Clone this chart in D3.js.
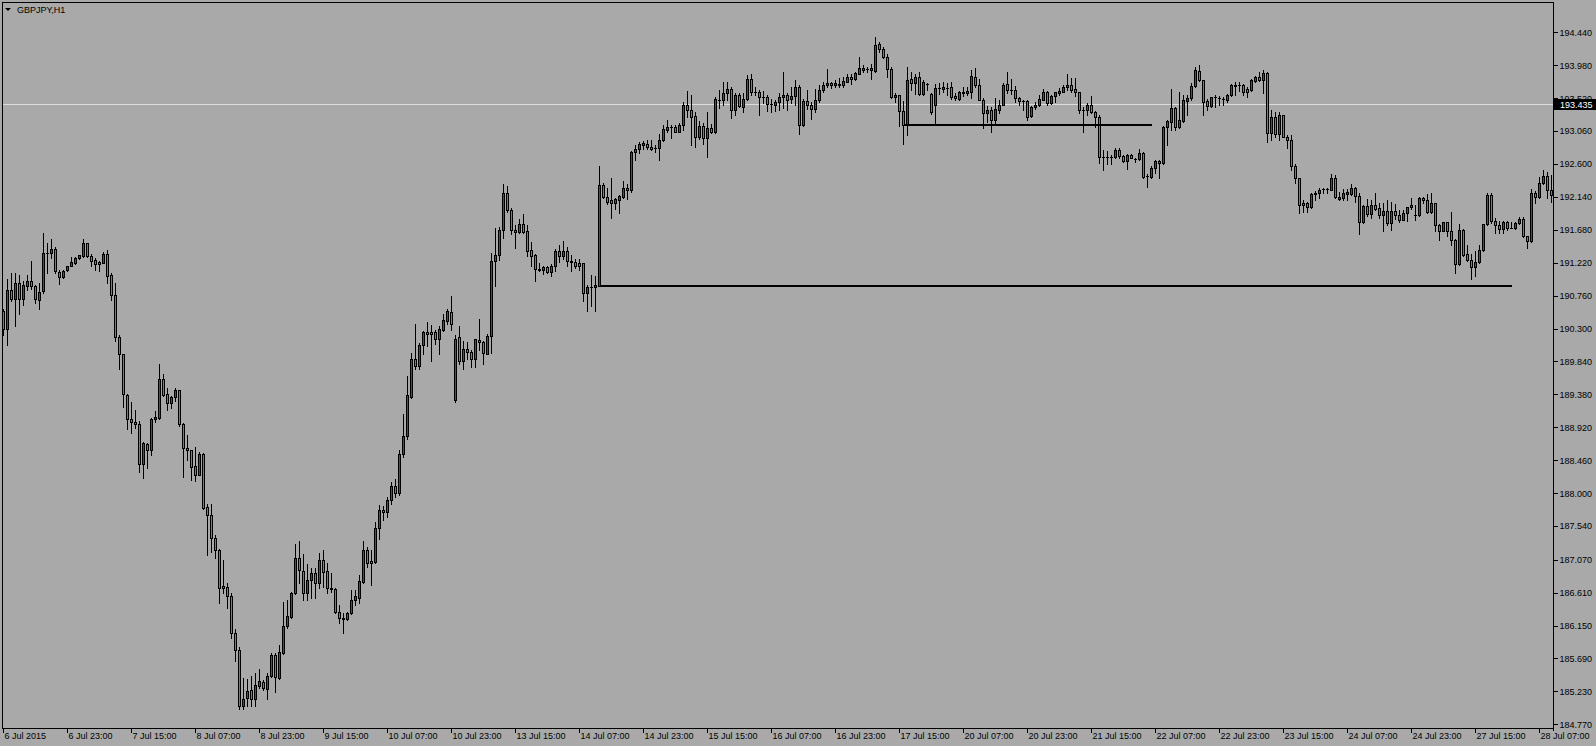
<!DOCTYPE html>
<html lang="en">
<head>
<meta charset="utf-8">
<title>GBPJPY,H1</title>
<style>
  body { margin: 0; background: #a9a9a9; }
  svg { display: block; }
  .axis text, .title { font: 9px "Liberation Sans", Arial, sans-serif; fill: #000; }
  .axis line { stroke: #000; shape-rendering: crispEdges; }
  .wick, .body, .doji, .frame { shape-rendering: crispEdges; }
</style>
</head>
<body>
<svg width="1596" height="746"></svg>
<script src="https://d3js.org/d3.v7.min.js"></script>
<script>

// hourly bars, 6 Jul 2015 07:00 .. 28 Jul 2015 10:00
var opens = [
 190.55,190.29,190.84,190.71,190.93,190.71,190.90,190.97,190.89,190.70,
 190.82,191.35,191.35,191.41,191.09,191.02,191.12,191.18,191.21,191.28,
 191.32,191.49,191.32,191.26,191.23,191.22,191.34,191.05,190.77,190.18,
 189.94,189.37,189.03,188.99,188.97,188.41,188.68,188.60,189.03,189.05,
 189.59,189.39,189.26,189.34,189.44,188.97,188.63,188.60,188.38,188.26,
 188.55,187.80,187.69,187.38,187.21,186.70,186.69,186.56,186.05,185.81,
 185.03,185.14,185.25,185.13,185.31,185.36,185.26,185.44,185.74,185.42,
 185.76,186.14,186.27,186.60,187.09,186.91,186.60,186.79,186.88,186.75,
 187.06,186.91,186.67,186.66,186.34,186.26,186.24,186.32,186.50,186.54,
 186.76,187.21,187.05,187.04,187.51,187.77,187.73,187.90,188.10,188.00,
 188.55,188.80,189.35,189.88,189.77,190.07,190.25,190.25,190.25,190.15,
 190.28,190.41,190.53,189.30,190.18,189.84,190.01,189.97,189.88,190.14,
 190.11,189.95,190.20,191.24,191.33,191.68,192.20,191.96,191.68,191.65,
 191.76,191.66,191.40,191.33,191.13,191.12,191.16,191.09,191.17,191.38,
 191.31,191.38,191.24,191.23,191.21,191.21,190.80,190.88,190.88,190.90,
 192.31,192.14,192.10,192.06,192.10,192.14,192.27,192.23,192.76,192.81,
 192.87,192.88,192.83,192.82,192.82,192.93,193.07,193.12,193.12,193.05,
 193.14,193.42,193.36,193.27,192.97,193.13,192.96,193.10,193.04,193.50,
 193.49,193.59,193.65,193.36,193.57,193.40,193.51,193.79,193.61,193.61,
 193.54,193.54,193.44,193.42,193.47,193.54,193.56,193.51,193.55,193.67,
 193.15,193.48,193.42,193.37,193.49,193.63,193.70,193.73,193.70,193.72,
 193.71,193.75,193.82,193.79,193.86,193.91,193.92,193.91,193.90,194.28,
 194.21,194.10,193.93,193.53,193.56,193.34,193.15,193.79,193.73,193.81,
 193.58,193.72,193.58,193.42,193.66,193.65,193.66,193.68,193.55,193.51,
 193.59,193.59,193.60,193.81,193.71,193.50,193.31,193.35,193.21,193.36,
 193.43,193.72,193.63,193.63,193.52,193.48,193.48,193.27,193.39,193.42,
 193.50,193.61,193.45,193.55,193.59,193.61,193.67,193.70,193.65,193.60,
 193.35,193.35,193.43,193.33,193.25,192.70,192.70,192.70,192.70,192.80,
 192.71,192.64,192.73,192.67,192.67,192.75,192.43,192.42,192.55,192.64,
 192.61,193.11,193.19,193.38,193.11,193.20,193.48,193.52,193.69,193.90,
 193.77,193.48,193.41,193.53,193.52,193.51,193.49,193.56,193.69,193.70,
 193.70,193.65,193.64,193.76,193.81,193.78,193.87,193.03,193.25,193.02,
 193.29,192.98,192.94,192.57,192.40,192.05,192.05,192.00,192.18,192.20,
 192.25,192.25,192.24,192.40,192.11,192.13,192.18,192.18,192.26,192.15,
 191.79,192.01,191.90,192.03,191.98,191.88,191.94,191.77,191.94,191.89,
 191.82,191.92,192.00,191.89,191.88,192.12,192.10,191.93,192.05,191.75,
 191.67,191.79,191.66,191.54,191.20,191.68,191.34,191.26,191.16,191.23,
 191.40,191.76,192.17,191.80,191.75,191.69,191.79,191.71,191.71,191.77,
 191.83,191.59,191.53,192.19,192.14,192.33,192.43,192.23
];
var highs = [
 190.57,190.99,191.08,191.08,191.05,190.96,191.05,191.24,190.91,190.93,
 191.64,191.49,191.55,191.44,191.12,191.12,191.18,191.30,191.30,191.33,
 191.55,191.50,191.34,191.28,191.24,191.37,191.40,191.07,190.93,190.21,
 189.95,189.39,189.28,189.16,189.01,188.72,188.70,189.05,189.15,189.80,
 189.67,189.47,189.36,189.47,189.44,188.98,188.81,188.60,188.64,188.57,
 188.56,187.85,187.85,187.41,187.22,187.07,186.74,186.60,186.10,185.85,
 185.41,185.40,185.45,185.48,185.54,185.39,185.48,185.76,185.76,185.88,
 186.48,186.51,186.62,187.29,187.33,187.15,187.01,186.95,186.96,187.16,
 187.21,187.03,186.88,186.67,186.43,186.32,186.34,186.65,186.65,186.86,
 187.33,187.25,187.21,187.59,187.84,187.82,187.95,188.15,188.20,188.60,
 189.10,189.64,189.96,190.36,190.10,190.26,190.39,190.35,190.28,190.34,
 190.50,190.57,190.75,190.21,190.33,190.12,190.11,190.00,190.15,190.43,
 190.13,190.22,191.35,191.71,191.72,192.32,192.29,191.99,191.75,191.83,
 191.90,191.75,191.51,191.34,191.21,191.17,191.17,191.20,191.41,191.47,
 191.52,191.44,191.33,191.27,191.27,191.22,190.91,191.05,191.03,192.57,
 192.33,192.27,192.41,192.13,192.17,192.36,192.32,192.78,192.86,192.90,
 192.92,192.93,192.94,192.86,193.02,193.14,193.22,193.14,193.14,193.17,
 193.46,193.62,193.56,193.33,193.20,193.17,193.32,193.16,193.53,193.64,
 193.74,193.74,193.68,193.59,193.59,193.59,193.84,193.85,193.68,193.64,
 193.62,193.57,193.51,193.50,193.59,193.89,193.59,193.67,193.78,193.70,
 193.51,193.64,193.47,193.65,193.71,193.75,193.93,193.74,193.78,193.80,
 193.81,193.85,193.86,193.89,194.09,193.98,193.96,193.99,194.37,194.31,
 194.23,194.13,193.95,193.59,193.57,193.48,193.96,193.89,193.85,193.89,
 193.78,193.73,193.59,193.72,193.73,193.75,193.73,193.74,193.59,193.62,
 193.67,193.67,193.91,193.94,193.79,193.52,193.41,193.39,193.52,193.49,
 193.73,193.89,193.79,193.69,193.53,193.49,193.49,193.41,193.46,193.56,
 193.65,193.62,193.56,193.61,193.66,193.71,193.85,193.80,193.80,193.61,
 193.40,193.45,193.55,193.34,193.28,192.79,192.78,192.73,192.82,192.82,
 192.73,192.74,192.74,192.68,192.81,192.77,192.46,192.57,192.66,192.66,
 193.13,193.21,193.65,193.40,193.60,193.56,193.56,193.73,193.96,193.98,
 193.78,193.51,193.54,193.56,193.55,193.54,193.58,193.72,193.74,193.74,
 193.72,193.67,193.79,193.83,193.88,193.91,193.88,193.35,193.32,193.33,
 193.29,193.00,193.00,192.60,192.41,192.10,192.07,192.19,192.22,192.26,
 192.26,192.26,192.46,192.45,192.21,192.25,192.25,192.32,192.28,192.19,
 192.03,192.11,192.10,192.20,192.05,192.05,192.10,192.07,192.04,191.96,
 191.96,192.00,192.12,192.03,192.14,192.14,192.18,192.19,192.06,191.76,
 191.79,191.79,191.93,191.55,191.76,191.69,191.47,191.34,191.38,191.47,
 191.76,192.19,192.19,191.84,191.80,191.80,191.80,191.79,191.79,191.86,
 191.86,191.60,192.25,192.22,192.42,192.52,192.49,192.45
];
var lows = [
 190.21,190.07,190.69,190.33,190.50,190.63,190.84,190.85,190.65,190.57,
 190.79,191.08,191.28,191.07,190.92,191.01,191.11,191.17,191.20,191.27,
 191.30,191.30,191.18,191.12,191.10,191.21,190.93,190.70,190.12,189.74,
 189.21,188.89,188.84,188.91,188.30,188.21,188.35,188.53,188.99,189.04,
 189.36,189.16,189.19,189.29,188.94,188.23,188.46,188.18,188.17,188.25,
 187.78,187.14,187.18,187.10,186.46,186.61,186.39,185.97,185.66,184.98,
 184.98,185.02,185.02,185.02,185.27,185.25,185.12,185.43,185.22,185.40,
 185.75,186.11,186.25,186.59,186.75,186.51,186.50,186.53,186.53,186.68,
 186.69,186.60,186.62,186.33,186.19,186.05,186.23,186.31,186.44,186.47,
 186.75,186.97,186.72,187.03,187.36,187.62,187.66,187.85,187.95,187.98,
 188.50,188.75,189.33,189.74,189.74,189.95,190.06,189.84,190.08,189.95,
 190.27,190.37,190.28,189.27,189.81,189.74,189.88,189.76,189.76,190.00,
 189.80,189.94,189.96,190.89,191.26,191.56,191.93,191.62,191.43,191.63,
 191.63,191.32,191.18,190.97,191.10,191.06,191.07,191.04,191.11,191.23,
 191.27,191.18,191.10,191.14,191.12,190.68,190.54,190.61,190.54,190.90,
 192.13,192.04,191.85,191.97,191.92,192.12,192.11,192.21,192.66,192.75,
 192.81,192.81,192.80,192.77,192.66,192.92,193.05,192.96,193.04,193.04,
 193.07,193.26,192.86,192.83,192.95,192.88,192.70,193.03,193.03,193.38,
 193.42,193.49,193.24,193.28,193.40,193.32,193.49,193.57,193.57,193.29,
 193.45,193.34,193.32,193.34,193.36,193.38,193.36,193.45,193.43,193.02,
 193.13,193.37,193.23,193.33,193.47,193.61,193.68,193.66,193.67,193.68,
 193.68,193.74,193.72,193.78,193.85,193.89,193.89,193.79,193.89,194.17,
 194.08,193.82,193.52,193.47,193.13,192.88,193.00,193.64,193.58,193.57,
 193.57,193.64,193.30,193.15,193.58,193.61,193.57,193.51,193.50,193.49,
 193.55,193.57,193.52,193.68,193.49,193.10,193.19,193.04,193.16,193.31,
 193.42,193.59,193.58,193.47,193.43,193.35,193.22,193.25,193.37,193.41,
 193.49,193.42,193.44,193.47,193.57,193.60,193.63,193.61,193.55,193.31,
 193.04,193.29,193.31,193.11,192.61,192.51,192.60,192.60,192.69,192.69,
 192.63,192.53,192.68,192.63,192.66,192.41,192.28,192.41,192.47,192.40,
 192.60,192.87,193.07,193.07,193.10,193.19,193.28,193.50,193.67,193.76,
 193.28,193.35,193.40,193.40,193.42,193.43,193.47,193.55,193.57,193.62,
 193.57,193.54,193.62,193.74,193.76,193.59,192.91,192.94,192.98,192.94,
 192.97,192.82,192.51,192.34,191.92,191.93,191.93,191.99,192.09,192.13,
 192.19,192.19,192.23,192.12,192.09,192.10,192.10,192.16,192.07,191.62,
 191.77,191.87,191.84,191.95,191.85,191.67,191.75,191.68,191.83,191.79,
 191.81,191.80,191.97,191.82,191.87,192.06,191.91,191.92,191.66,191.54,
 191.66,191.60,191.47,191.07,191.19,191.31,191.25,190.99,191.03,191.21,
 191.39,191.75,191.77,191.63,191.63,191.63,191.68,191.70,191.69,191.76,
 191.58,191.43,191.51,192.05,192.13,192.32,192.13,192.07
];
var closes = [
 190.29,190.84,190.71,190.93,190.71,190.91,190.97,190.89,190.71,190.81,
 191.35,191.35,191.41,191.10,191.02,191.11,191.17,191.23,191.28,191.33,
 191.49,191.32,191.25,191.20,191.20,191.34,191.04,190.77,190.18,189.94,
 189.39,189.03,188.99,188.96,188.41,188.70,188.60,189.03,189.06,189.59,
 189.37,189.26,189.34,189.44,188.96,188.63,188.60,188.37,188.26,188.55,
 187.79,187.69,187.37,187.20,186.68,186.68,186.56,186.05,185.81,185.03,
 185.13,185.24,185.13,185.32,185.37,185.27,185.44,185.74,185.43,185.78,
 186.14,186.28,186.60,187.09,186.93,186.60,186.79,186.88,186.75,187.06,
 186.90,186.67,186.66,186.34,186.25,186.25,186.32,186.50,186.56,186.77,
 187.21,187.03,187.03,187.51,187.77,187.73,187.90,188.10,188.00,188.55,
 188.80,189.37,189.88,189.77,190.07,190.25,190.22,190.22,190.15,190.29,
 190.42,190.55,190.37,190.15,189.84,190.01,189.97,189.88,190.15,190.11,
 189.96,190.20,191.24,191.33,191.68,192.20,191.95,191.68,191.65,191.76,
 191.65,191.39,191.32,191.13,191.12,191.16,191.09,191.17,191.38,191.32,
 191.38,191.24,191.23,191.18,191.18,190.79,190.88,190.88,190.91,192.31,
 192.14,192.07,192.06,192.11,192.15,192.27,192.23,192.76,192.81,192.88,
 192.89,192.83,192.81,192.82,192.93,193.09,193.12,193.12,193.05,193.15,
 193.42,193.36,193.26,192.98,193.13,192.96,193.10,193.04,193.51,193.50,
 193.59,193.65,193.36,193.57,193.41,193.51,193.79,193.61,193.61,193.53,
 193.54,193.44,193.44,193.47,193.54,193.57,193.50,193.55,193.67,193.15,
 193.48,193.43,193.37,193.49,193.63,193.70,193.73,193.70,193.73,193.70,
 193.76,193.82,193.79,193.87,193.94,193.94,193.92,193.94,194.26,194.20,
 194.10,193.93,193.53,193.56,193.34,193.15,193.78,193.73,193.81,193.58,
 193.74,193.72,193.32,193.66,193.66,193.68,193.66,193.54,193.52,193.60,
 193.61,193.62,193.83,193.71,193.50,193.31,193.35,193.21,193.37,193.43,
 193.70,193.63,193.63,193.52,193.48,193.48,193.25,193.39,193.43,193.51,
 193.60,193.45,193.55,193.60,193.62,193.67,193.70,193.64,193.60,193.35,
 193.35,193.43,193.32,193.25,192.70,192.70,192.70,192.70,192.80,192.71,
 192.64,192.73,192.69,192.67,192.75,192.42,192.43,192.55,192.64,192.61,
 193.11,193.20,193.38,193.11,193.21,193.49,193.52,193.69,193.91,193.77,
 193.47,193.41,193.53,193.53,193.52,193.51,193.56,193.70,193.70,193.70,
 193.60,193.60,193.77,193.81,193.78,193.87,193.03,193.25,193.02,193.29,
 192.98,192.94,192.57,192.40,192.03,192.02,192.00,192.18,192.20,192.24,
 192.25,192.25,192.40,192.14,192.14,192.20,192.21,192.26,192.15,191.79,
 192.01,191.90,192.03,191.97,191.88,191.94,191.77,191.94,191.88,191.82,
 191.92,192.00,192.03,191.89,192.13,192.09,191.93,192.05,191.74,191.67,
 191.79,191.66,191.54,191.20,191.68,191.33,191.26,191.16,191.23,191.40,
 191.76,192.17,191.80,191.75,191.69,191.79,191.71,191.71,191.78,191.83,
 191.59,191.53,192.19,192.14,192.33,192.43,192.23,192.16
];

var xTickBars = [0,16,32,48,64,80,96,112,128,144,160,176,192,208,224,240,256,272,288,304,320,336,352,368,384];
var xTickLabels = ["6 Jul 2015","6 Jul 23:00","7 Jul 15:00","8 Jul 07:00","8 Jul 23:00","9 Jul 15:00",
  "10 Jul 07:00","10 Jul 23:00","13 Jul 15:00","14 Jul 07:00","14 Jul 23:00","15 Jul 15:00",
  "16 Jul 07:00","16 Jul 23:00","17 Jul 15:00","20 Jul 07:00","20 Jul 23:00","21 Jul 15:00",
  "22 Jul 07:00","22 Jul 23:00","23 Jul 15:00","24 Jul 07:00","24 Jul 23:00","27 Jul 15:00","28 Jul 07:00"];
var yTicks = [194.44,193.98,193.52,193.06,192.60,192.14,191.68,191.22,190.76,190.30,189.84,
  189.38,188.92,188.46,188.00,187.54,187.07,186.61,186.15,185.69,185.23,184.77];

var bidPrice = 193.435;
var levelPrices = [193.15, 190.90];
var levelFrom = [225, 149];
var levelTo = [287, 377];

var symbolName = "GBPJPY,H1";

var svg = d3.select("svg");
var W = 1596, H = 746;
var plotRight = 1553, plotBottom = 728;

var n = closes.length;
var bars = d3.range(n).map(function(i) {
  return {i: i, o: opens[i], h: highs[i], l: lows[i], c: closes[i]};
});

var x = d3.scaleLinear().domain([0, n - 1]).range([3.5, 3.5 + 4 * (n - 1)]);
var y = d3.scaleLinear().domain([184.718, 194.891]).range([plotBottom, 0]);

svg.append("rect").attr("width", W).attr("height", H).attr("fill", "#a9a9a9");

// bid line
var by = Math.round(y(bidPrice)) + 0.5;
svg.append("line")
   .attr("x1", 2).attr("x2", plotRight)
   .attr("y1", by).attr("y2", by)
   .attr("stroke", "#dcdcdc").attr("stroke-width", 1)
   .style("shape-rendering", "crispEdges");

// candles
var g = svg.append("g");

g.selectAll("line.wick")
  .data(bars)
  .enter().append("line")
  .attr("class", "wick")
  .attr("x1", function(d) { return x(d.i); })
  .attr("x2", function(d) { return x(d.i); })
  .attr("y1", function(d) { return Math.round(y(d.h)); })
  .attr("y2", function(d) { return Math.round(y(d.l)) + 1; })
  .attr("stroke", "#000");

g.selectAll("rect.body")
  .data(bars.filter(function(d) { return Math.abs(d.o - d.c) > 0.005; }))
  .enter().append("rect")
  .attr("class", "body")
  .attr("x", function(d) { return x(d.i) - 1; })
  .attr("y", function(d) { return Math.round(y(Math.max(d.o, d.c))) + 0.5; })
  .attr("width", 2)
  .attr("height", function(d) {
     return Math.max(1, Math.round(y(Math.min(d.o, d.c))) - Math.round(y(Math.max(d.o, d.c))));
  })
  .attr("fill", function(d) { return d.c > d.o ? "#117a11" : "#ee5420"; })
  .attr("stroke", "#000").attr("stroke-width", 1);

g.selectAll("line.doji")
  .data(bars.filter(function(d) { return Math.abs(d.o - d.c) <= 0.005; }))
  .enter().append("line")
  .attr("class", "doji")
  .attr("x1", function(d) { return x(d.i) - 1.5; })
  .attr("x2", function(d) { return x(d.i) + 1.5; })
  .attr("y1", function(d) { return Math.round(y(d.c)) + 0.5; })
  .attr("y2", function(d) { return Math.round(y(d.c)) + 0.5; })
  .attr("stroke", "#000");

// horizontal levels drawn on the chart
svg.selectAll("line.level")
  .data(levelPrices)
  .enter().append("line")
  .attr("class", "level")
  .attr("x1", function(d, k) { return x(levelFrom[k]); })
  .attr("x2", function(d, k) { return x(levelTo[k]); })
  .attr("y1", function(d) { return y(d); })
  .attr("y2", function(d) { return y(d); })
  .attr("stroke", "#000").attr("stroke-width", 2)
  .style("shape-rendering", "crispEdges");

// frame
svg.append("rect")
   .attr("class", "frame")
   .attr("x", 2.5).attr("y", 2.5)
   .attr("width", plotRight - 2).attr("height", plotBottom - 2)
   .attr("fill", "none").attr("stroke", "#000");

// axes
var yAxis = d3.axisRight(y)
  .tickValues(yTicks)
  .tickFormat(d3.format(".3f"))
  .tickSize(4).tickSizeOuter(0).tickPadding(2);

svg.append("g")
   .attr("class", "axis")
   .attr("transform", "translate(" + (plotRight + 0.5) + ",0)")
   .call(yAxis)
   .call(function(s) { s.select(".domain").remove(); });

var xAxis = d3.axisBottom(x)
  .tickValues(xTickBars)
  .tickFormat(function(d, k) { return xTickLabels[k]; })
  .tickSize(4).tickSizeOuter(0).offset(0);

svg.append("g")
   .attr("class", "axis")
   .attr("transform", "translate(0," + (plotBottom + 0.5) + ")")
   .call(xAxis)
   .call(function(s) {
      s.select(".domain").remove();
      s.selectAll("text").attr("text-anchor", "start").attr("x", 1).attr("y", 4);
   });

svg.append("line")
   .attr("x1", plotRight + 0.5).attr("x2", plotRight + 0.5)
   .attr("y1", 2).attr("y2", plotBottom + 3)
   .attr("stroke", "#000").style("shape-rendering", "crispEdges");

// bid price label
svg.append("rect")
   .attr("x", plotRight + 1).attr("y", Math.round(y(bidPrice)) - 5)
   .attr("width", W - plotRight - 1).attr("height", 11)
   .attr("fill", "#000");
svg.append("text")
   .attr("class", "title")
   .attr("x", plotRight + 7).attr("y", Math.round(y(bidPrice)) + 4)
   .style("fill", "#fff")
   .text(d3.format(".3f")(bidPrice));

// symbol caption
svg.append("path")
   .attr("d", "M5,8L11,8L8,11Z")
   .attr("fill", "#000");
svg.append("text")
   .attr("class", "title")
   .attr("x", 17).attr("y", 13)
   .text(symbolName);

</script>
</body>
</html>
